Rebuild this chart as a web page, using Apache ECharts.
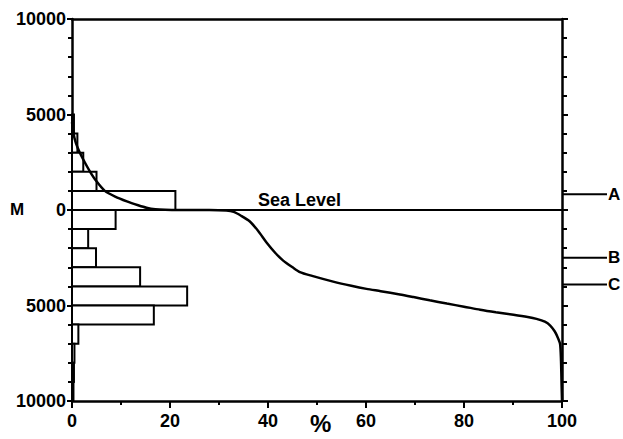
<!DOCTYPE html>
<html>
<head>
<meta charset="utf-8">
<script src="https://cdn.jsdelivr.net/npm/echarts@6/dist/echarts.min.js"></script>
<style>
html,body{margin:0;padding:0;background:#fff;}
#chart{width:623px;height:439px;}
</style>
</head>
<body>
<div id="chart"></div>
<script>
// Histogram bands (elevation in metres, % of area)
const bandTops     = [5000, 4000, 3000, 2000, 1000,     0, -1000, -2000, -3000, -4000, -5000, -6000, -7000, -8000, -9000];
const bandBottoms  = [4000, 3000, 2000, 1000,    0, -1000, -2000, -3000, -4000, -5000, -6000, -7000, -8000, -9000, -10000];
const bandPercents = [ 0.4,  1.1,  2.3,  5.0, 21.1,   8.9,   3.3,   4.9,  13.9,  23.5,  16.7,   1.3,   0.5,   0.4,   0.3];

// Hypsographic curve: cumulative %, elevation (m)
const curvePercent = [0, 0.3, 0.8, 1.6, 2.6, 3.7, 5.0, 6.7, 8.8, 11.2, 13.5, 15.2, 17, 19, 22, 28, 31.5, 33, 34.5, 36.3, 38, 39.7, 41.5, 43.1, 45, 46.5, 49, 53.3, 57, 60.1, 63, 66.9, 69.7, 73, 76.5, 80, 83.3, 86.5, 90.1, 93, 94.8, 96.5, 97.6, 98.5, 99, 99.6, 99.8, 99.9, 100];
const curveElev    = [4600, 4000, 3500, 3000, 2500, 2000, 1500, 1000, 700, 450, 250, 120, 40, 10, 0, 0, -30, -100, -300, -600, -1100, -1700, -2250, -2650, -3000, -3250, -3450, -3750, -3970, -4130, -4250, -4420, -4560, -4730, -4900, -5060, -5220, -5350, -5480, -5600, -5700, -5850, -6050, -6350, -6600, -7000, -7900, -9000, -10000];

// Right-hand reference levels
const markerLabels = ['A', 'B', 'C'];
const markerElev   = [820, -2500, -3900];

// Axis ticks
const xTickLabels = [0, 20, 40, 60, 80, 100];
const yTickLabels = [10000, 5000, 0, -5000, -10000];

const FONT = '"Liberation Sans", Arial, sans-serif';

const chart = echarts.init(document.getElementById('chart'), null, {renderer: 'svg'});

const curveData = curvePercent.map((p, i) => [p, curveElev[i]]);
const barData = bandPercents.map((p, i) => [p, bandBottoms[i], bandTops[i]]);
const markerData = markerElev.map(e => [100, e]);

chart.setOption({
  animation: false,
  backgroundColor: '#fff',
  grid: {left: 72, right: 61, top: 19, bottom: 38, containLabel: false, outerBoundsMode: 'none'},
  xAxis: [{
    type: 'value', min: 0, max: 100, interval: 20, position: 'bottom',
    axisLine: {show: true, onZero: false, lineStyle: {color: '#000', width: 2.5}},
    axisTick: {show: true, inside: false, length: 7, lineStyle: {color: '#000', width: 2}},
    minorTick: {show: true, splitNumber: 2, length: 4, lineStyle: {color: '#000', width: 2}},
    splitLine: {show: false},
    axisLabel: {color: '#000', fontFamily: FONT, fontWeight: 'bold', fontSize: 18, margin: 11,
      formatter: v => xTickLabels.indexOf(v) >= 0 ? String(v) : ''}
  }, {
    type: 'value', min: 0, max: 100, position: 'top',
    axisLine: {show: true, onZero: false, lineStyle: {color: '#000', width: 2.5}},
    axisTick: {show: false}, axisLabel: {show: false}, splitLine: {show: false}
  }],
  yAxis: [{
    type: 'value', min: -10000, max: 10000, interval: 5000, position: 'left',
    axisLine: {show: true, onZero: false, lineStyle: {color: '#000', width: 2.5}},
    axisTick: {show: true, inside: false, length: 5, lineStyle: {color: '#000', width: 2}},
    minorTick: {show: true, splitNumber: 5, length: 4, lineStyle: {color: '#000', width: 2}},
    splitLine: {show: false},
    axisLabel: {color: '#000', fontFamily: FONT, fontWeight: 'bold', fontSize: 18, margin: 6,
      formatter: v => yTickLabels.indexOf(v) >= 0 ? String(Math.abs(v)) : ''}
  }, {
    type: 'value', min: -10000, max: 10000, interval: 5000, position: 'right',
    axisLine: {show: true, onZero: false, lineStyle: {color: '#000', width: 2.5}},
    axisTick: {show: true, inside: false, length: 6, lineStyle: {color: '#000', width: 2}},
    minorTick: {show: true, splitNumber: 5, length: 5, lineStyle: {color: '#000', width: 2}},
    splitLine: {show: false}, axisLabel: {show: false}
  }],
  graphic: [
    {type: 'text', left: 10, top: 201, style: {text: 'M', fill: '#000', font: 'bold 17px ' + FONT}},
    {type: 'text', left: 258, top: 191, style: {text: 'Sea Level', fill: '#000', font: 'bold 18px ' + FONT}},
    {type: 'text', left: 310, top: 411, style: {text: '%', fill: '#000', font: 'bold 24px ' + FONT}}
  ],
  series: [
    {
      type: 'custom', name: 'histogram', xAxisIndex: 0, yAxisIndex: 0, z: 2,
      data: barData,
      renderItem: (params, api) => {
        const p1 = api.coord([0, api.value(2)]);
        const p2 = api.coord([api.value(0), api.value(1)]);
        return {type: 'rect', shape: {x: p1[0], y: p1[1], width: p2[0] - p1[0], height: p2[1] - p1[1]},
          style: {fill: '#fff', stroke: '#000', lineWidth: 2}};
      }
    },
    {
      type: 'line', name: 'sea level', xAxisIndex: 0, yAxisIndex: 0, z: 3,
      data: [[0, 0], [100, 0]], symbol: 'none',
      lineStyle: {color: '#000', width: 2}
    },
    {
      type: 'line', name: 'hypsographic', xAxisIndex: 0, yAxisIndex: 0, z: 4,
      data: curveData, symbol: 'none', smooth: 0.25,
      lineStyle: {color: '#000', width: 2.5}
    },
    {
      type: 'custom', name: 'markers', xAxisIndex: 0, yAxisIndex: 0, z: 5, clip: false,
      data: markerData,
      renderItem: (params, api) => {
        const p = api.coord([api.value(0), api.value(1)]);
        return {type: 'group', children: [
          {type: 'line', shape: {x1: p[0], y1: p[1], x2: p[0] + 45, y2: p[1]}, style: {stroke: '#000', lineWidth: 2}},
          {type: 'text', x: p[0] + 46, y: p[1], style: {text: markerLabels[params.dataIndex], fill: '#000',
            font: 'bold 17px ' + FONT, textAlign: 'left', textVerticalAlign: 'middle'}}
        ]};
      }
    }
  ]
});
</script>
</body>
</html>
